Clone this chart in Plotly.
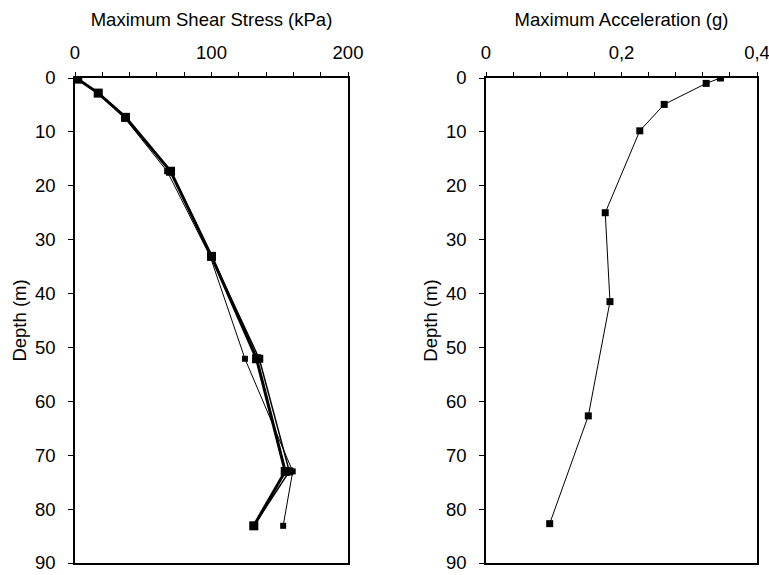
import plotly.graph_objects as go

# Depth profiles (m) and response values
depth_shear = [0.2, 2.8, 7.3, 17.3, 33.1, 52.1, 73.0, 83.1]
shear_a = [2, 17, 37, 70, 100, 133, 154, 131]      # thick line
shear_b = [2, 17, 37, 70, 100, 135, 157, 131]      # medium line
shear_c = [2, 17, 36, 67.5, 99, 124.5, 159.5, 152.5]  # thin line

depth_acc = [0.0, 1.0, 4.9, 9.8, 25.0, 41.5, 62.7, 82.7]
acc = [0.346, 0.325, 0.263, 0.227, 0.176, 0.183, 0.151, 0.094]

shear_ticks = [0, 100, 200]
acc_ticks = [0, 0.2, 0.4]
acc_ticktext = ["0", "0,2", "0,4"]
depth_ticks = list(range(0, 100, 10))

FONT = "Liberation Sans, Arial, sans-serif"
FS = 18.5
BLACK = "#000000"
TXT = "#000000"

fig = go.Figure()

fig.add_trace(go.Scatter(x=shear_c, y=depth_shear, mode="lines+markers",
                         line=dict(color=BLACK, width=1),
                         marker=dict(symbol="square", size=6, color=BLACK),
                         xaxis="x", yaxis="y", showlegend=False))
fig.add_trace(go.Scatter(x=shear_b, y=depth_shear, mode="lines+markers",
                         line=dict(color=BLACK, width=1.5),
                         marker=dict(symbol="square", size=8, color=BLACK),
                         xaxis="x", yaxis="y", showlegend=False))
fig.add_trace(go.Scatter(x=shear_a, y=depth_shear, mode="lines+markers",
                         line=dict(color=BLACK, width=3),
                         marker=dict(symbol="square", size=9, color=BLACK),
                         xaxis="x", yaxis="y", showlegend=False))

fig.add_trace(go.Scatter(x=acc, y=depth_acc, mode="lines+markers",
                         line=dict(color=BLACK, width=1),
                         marker=dict(symbol="square", size=7, color=BLACK),
                         xaxis="x2", yaxis="y2", showlegend=False))

xcommon = dict(side="top", showgrid=False, zeroline=False, showline=True,
               linecolor=BLACK, linewidth=1.5, mirror=True, automargin=False,
               ticks="outside", ticklen=4, tickwidth=1, tickcolor=BLACK,
               ticklabelstandoff=6, ticklabeloverflow="allow",
               tickfont=dict(family=FONT, size=FS, color=TXT),
               title_font=dict(family=FONT, size=FS, color=TXT))
ycommon = dict(range=[90, 0], showgrid=False, zeroline=False, showline=True,
               linecolor=BLACK, linewidth=1.5, mirror=True, automargin=False,
               ticks="outside", ticklen=5, tickwidth=1, tickcolor=BLACK,
               ticklabelstandoff=9, ticklabeloverflow="allow",
               tickvals=depth_ticks,
               tickfont=dict(family=FONT, size=FS, color=TXT),
               title=dict(text="Depth (m)", standoff=3,
                          font=dict(family=FONT, size=FS, color=TXT)))

y_dom = [1 - 563 / 575, 1 - 78 / 575]

fig.update_layout(
    width=769, height=575,
    margin=dict(l=0, r=0, t=0, b=0),
    paper_bgcolor="white", plot_bgcolor="white",
    xaxis=dict(xcommon, domain=[75 / 769, 348 / 769], range=[0, 200],
               tickvals=shear_ticks,
               minor=dict(dtick=20, ticks="outside", ticklen=4, tickcolor=BLACK),
               title=dict(text="Maximum Shear Stress (kPa)", standoff=10),
               anchor="y"),
    xaxis2=dict(xcommon, domain=[486 / 769, 757 / 769], range=[0, 0.4],
                tickvals=acc_ticks, ticktext=acc_ticktext,
                minor=dict(dtick=0.04, ticks="outside", ticklen=4, tickcolor=BLACK),
                title=dict(text="Maximum Acceleration (g)", standoff=10),
                anchor="y2"),
    yaxis=dict(ycommon, domain=y_dom, anchor="x"),
    yaxis2=dict(ycommon, domain=y_dom, anchor="x2"),
)

fig.write_html("out.html")
